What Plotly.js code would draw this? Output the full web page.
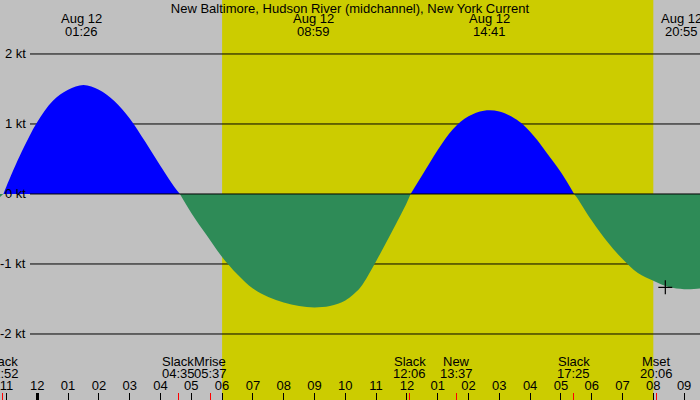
<!DOCTYPE html>
<html>
<head>
<meta charset="utf-8">
<script src="https://cdn.plot.ly/plotly-3.0.1.min.js"></script>
<style>html,body{margin:0;padding:0;background:#c0c0c0;}#chart{width:700px;height:400px;}</style>
</head>
<body>
<div id="chart"></div>
<script>
// Current (knots) vs hours from midnight Aug 12
var hours = [-1.25, -1.10, -1.0, -0.5, 0, 0.5, 1.0, 1.5, 2.0, 2.5, 3.0, 3.5, 4.0, 4.5, 4.63,
  5.0, 5.5, 6.0, 6.5, 7.0, 7.5, 8.0, 8.5, 9.0, 9.5, 10.0, 10.25, 10.5, 11.0, 11.5, 12.0, 12.12,
  12.5, 13.0, 13.5, 14.0, 14.5, 15.0, 15.5, 15.75, 16.0, 16.25, 16.5, 17.0, 17.43,
  17.5, 18.0, 18.5, 19.0, 19.5, 20.0, 20.5, 21.0, 21.5, 21.6];
var knots = [-0.06, 0, 0.11, 0.61, 1.03, 1.33, 1.49, 1.557, 1.49, 1.33, 1.08, 0.75, 0.40, 0.07, 0,
  -0.27, -0.59, -0.90, -1.15, -1.35, -1.47, -1.55, -1.60, -1.62, -1.60, -1.52, -1.44, -1.33, -0.96, -0.55, -0.12, 0,
  0.27, 0.63, 0.93, 1.11, 1.19, 1.18, 1.08, 1.00, 0.89, 0.76, 0.61, 0.31, 0,
  -0.04, -0.38, -0.68, -0.93, -1.13, -1.24, -1.33, -1.36, -1.35, -1.34];

var tickHours = [-1,0,1,2,3,4,5,6,7,8,9,10,11,12,13,14,15,16,17,18,19,20,21];
var tickLabels = ["11","12","01","02","03","04","05","06","07","08","09","10","11","12","01","02","03","04","05","06","07","08","09"];

var yTicks = [2, 1, 0, -1, -2];
var yTickLabels = ["2 kt", "1 kt", "0 kt", "-1 kt", "-2 kt"];

var peakTimes = [1.433, 8.983, 14.683, 20.917];
var peakDates = ["Aug 12", "Aug 12", "Aug 12", "Aug 12"];
var peakClocks = ["01:26", "08:59", "14:41", "20:55"];

var eventTimes = [-1.133, 4.583, 5.617, 12.1, 13.617, 17.417, 20.1];
var eventNames = ["Slack", "Slack", "Mrise", "Slack", "New", "Slack", "Mset"];
var eventClocks = ["22:52", "04:35", "05:37", "12:06", "13:37", "17:25", "20:06"];

var sunrise = 6.0, sunset = 20.0;
var markHour = [20.39], markKnots = [-1.333];

var titleText = "New Baltimore, Hudson River (midchannel), New York Current";

var FONT = "Liberation Sans, Arial, sans-serif";
var W = 700, H = 400;
var xRange = [-1.211, 21.516];
var yRange = [-2.943, 2.771];

// split series into flood / ebb segments at zero points
var segs = [];
var cur = {x: [], y: [], sign: 0};
for (var i = 0; i < hours.length; i++) {
  var v = knots[i];
  cur.x.push(hours[i]); cur.y.push(v);
  if (v !== 0 && cur.sign === 0) cur.sign = v > 0 ? 1 : -1;
  if (v === 0 && cur.x.length > 1) {
    segs.push(cur);
    cur = {x: [hours[i]], y: [v], sign: 0};
  }
}
if (cur.x.length > 1) segs.push(cur);

var traces = segs.map(function (s) {
  return {
    x: s.x, y: s.y, type: 'scatter', mode: 'lines',
    line: {width: 0, shape: 'spline', smoothing: 1.0},
    fill: 'tozeroy',
    fillcolor: s.sign > 0 ? '#0000ff' : '#2e8b57',
    hoverinfo: 'skip', showlegend: false
  };
});
traces.push({
  x: markHour, y: markKnots, type: 'scatter', mode: 'markers',
  marker: {symbol: 'cross-thin', size: 10, line: {color: '#000', width: 1.2}},
  showlegend: false, hoverinfo: 'skip'
});
traces.push({x: [], y: [], xaxis: 'x2', yaxis: 'y', type: 'scatter', showlegend: false});
traces.push({x: [], y: [], xaxis: 'x3', yaxis: 'y', type: 'scatter', showlegend: false});
traces.push({x: [], y: [], xaxis: 'x4', yaxis: 'y', type: 'scatter', showlegend: false});

var shapes = [{
  type: 'rect', xref: 'x', yref: 'paper', x0: sunrise, x1: sunset, y0: 0, y1: 1,
  fillcolor: '#cccc00', line: {width: 0}, layer: 'below'
}];
yTicks.forEach(function (t) {
  shapes.push({
    type: 'line', xref: 'paper', yref: 'y', x0: 30 / W, x1: 1, y0: t, y1: t,
    line: {color: '#000', width: 1}, layer: t === 0 ? 'above' : 'below'
  });
});

var annotations = [];
function ann(xref, yref, x, y, xanchor, text) {
  annotations.push({xref: xref, yref: yref, x: x, y: y, xanchor: xanchor, yanchor: 'middle',
    text: text, showarrow: false, font: {family: FONT, size: 13, color: '#000'}});
}
yTicks.forEach(function (t, i) { ann('paper', 'y', 28 / W, t, 'right', yTickLabels[i]); });
peakTimes.forEach(function (t, i) {
  ann('x', 'paper', t, 1 - 19 / H, 'center', peakDates[i]);
  ann('x', 'paper', t, 1 - 31 / H, 'center', peakClocks[i]);
});
eventTimes.forEach(function (t, i) {
  ann('x', 'paper', t, 1 - 361 / H, 'center', eventNames[i]);
  ann('x', 'paper', t, 1 - 373.5 / H, 'center', eventClocks[i]);
});

var axBase = {range: xRange, showgrid: false, zeroline: false, showline: false, fixedrange: true};
function ax(extra) { var o = {}; for (var k in axBase) o[k] = axBase[k]; for (var k2 in extra) o[k2] = extra[k2]; return o; }

var layout = {
  width: W, height: H,
  margin: {l: 0, r: 0, t: 0, b: 0, pad: 0},
  paper_bgcolor: '#c0c0c0', plot_bgcolor: 'rgba(0,0,0,0)',
  showlegend: false,
  title: {text: titleText, x: 0.5, xanchor: 'center', y: 1 - 8 / H, yanchor: 'middle',
    font: {family: FONT, size: 13, color: '#000'}},
  xaxis: ax({tickvals: tickHours, ticks: 'inside', ticklen: 7, tickwidth: 1, tickcolor: '#000',
    showticklabels: false}),
  xaxis2: ax({overlaying: 'x', anchor: 'y', side: 'bottom',
    tickvals: [0], ticks: 'inside', ticklen: 7, tickwidth: 3, tickcolor: '#000', showticklabels: false}),
  xaxis3: ax({overlaying: 'x', anchor: 'y', side: 'bottom',
    tickvals: eventTimes, ticks: 'inside', ticklen: 7, tickwidth: 1, tickcolor: '#ff0000', showticklabels: false}),
  xaxis4: ax({overlaying: 'x', anchor: 'free', side: 'top', position: 7 / H,
    tickvals: tickHours, ticktext: tickLabels, ticks: '', showticklabels: true,
    ticklabeloverflow: 'allow',
    tickfont: {family: FONT, size: 13, color: '#000'}}),
  yaxis: {range: yRange, showticklabels: false, ticks: '', showgrid: false, zeroline: false,
    showline: false, fixedrange: true},
  shapes: shapes,
  annotations: annotations
};

Plotly.newPlot('chart', traces, layout, {staticPlot: true, displayModeBar: false});
</script>
</body>
</html>
